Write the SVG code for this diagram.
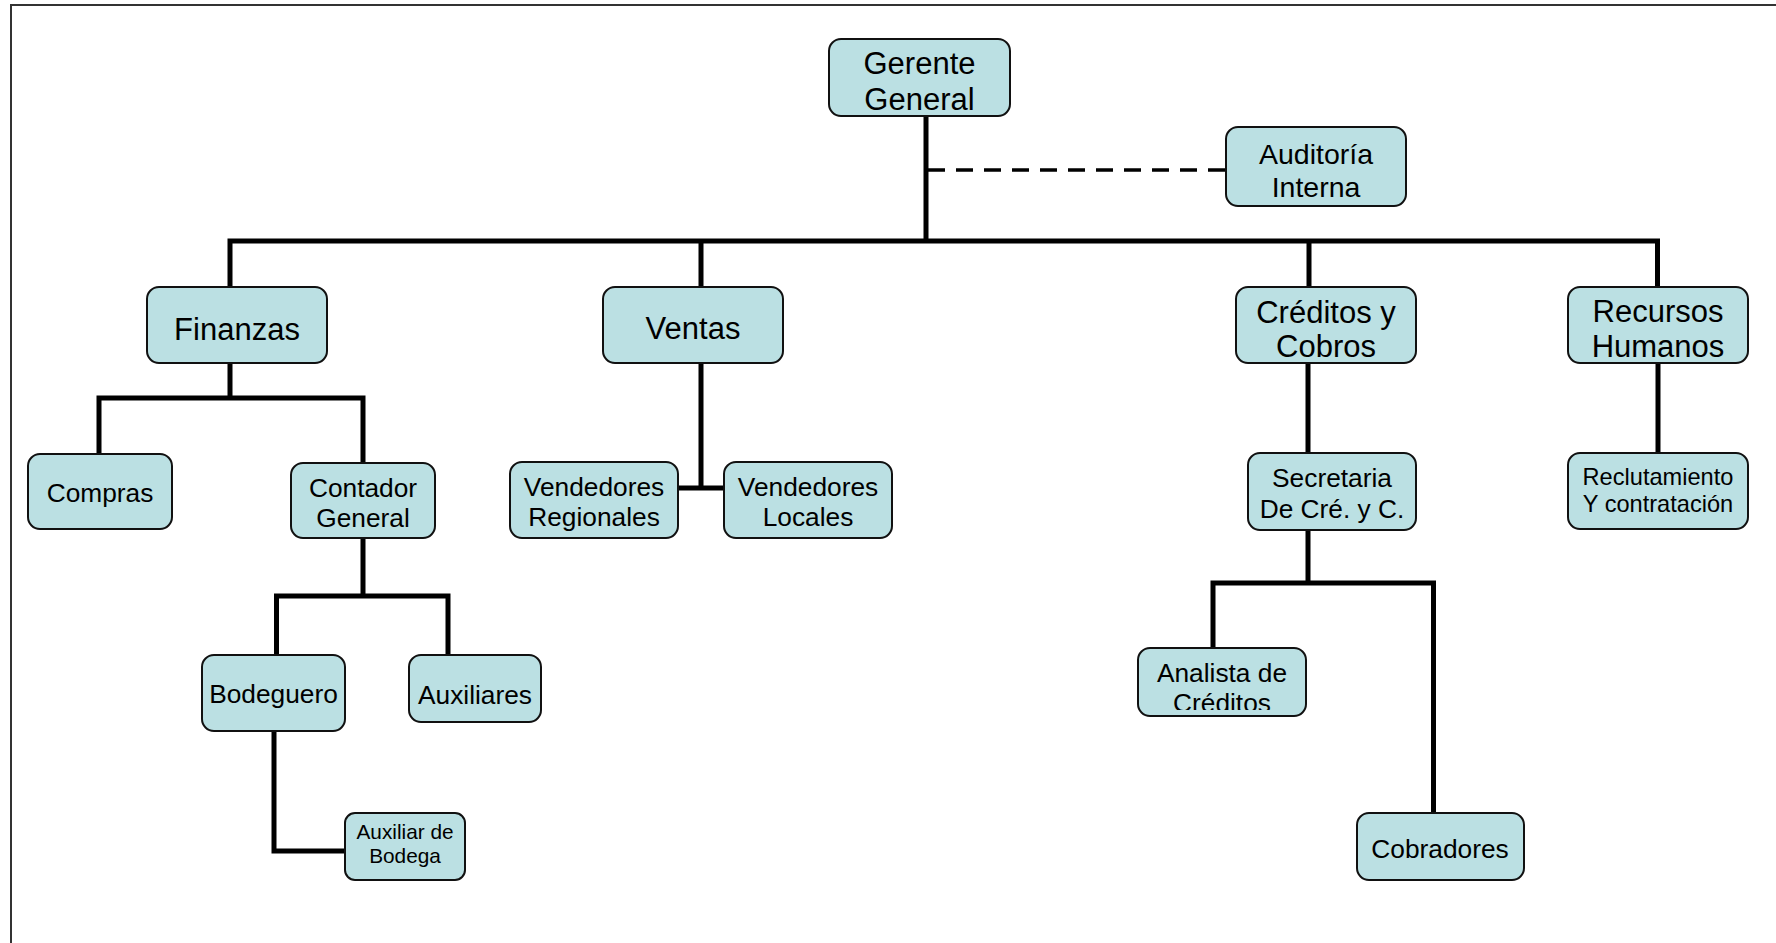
<svg xmlns="http://www.w3.org/2000/svg" width="1776" height="943" viewBox="0 0 1776 943">
<style>
.box{fill:#BBE0E3;stroke:#111;stroke-width:2}
.t{font-family:"Liberation Sans",Arial,sans-serif;fill:#000;text-anchor:middle}
.f31{font-size:31px}.f28{font-size:28.5px}.f26{font-size:26.3px}.f24{font-size:23.6px}.f21{font-size:20.8px}
.c{fill:none;stroke:#000;stroke-width:5}
.d{fill:none;stroke:#000;stroke-width:3.5;stroke-dasharray:17 11}
</style>
<defs>
<clipPath id="clipAnalista"><rect x="1138" y="640" width="170" height="70"/></clipPath>
</defs>
<rect x="0" y="0" width="1776" height="943" fill="#fff"/>
<path d="M11,950 V5 H1780" fill="none" stroke="#333" stroke-width="2"/>
<g id="connectors">
<path class="c" d="M926,116 V241 M230,287 V241 H1657.5 V287 M701,241 V287 M1309,241 V287"/>
<path class="d" d="M928,170 H1226"/>
<path class="c" d="M230,363 V398 M99,454 V398 H363 V463"/>
<path class="c" d="M363,538 V596 M276.5,656 V596 H448 V656"/>
<path class="c" d="M274,731 V851 H346"/>
<path class="c" d="M701,363 V488 M678,488 H724"/>
<path class="c" d="M1308,363 V453 M1308,530 V583 M1213,648 V583 H1433.5 V814"/>
<path class="c" d="M1658,363 V453"/>
</g>
<g id="gerente"><rect class="box" x="829" y="39" width="181" height="77" rx="12"/><text class="t f31" x="919.5" y="74">Gerente</text><text class="t f31" x="919.5" y="110">General</text></g>
<g id="auditoria"><rect class="box" x="1226" y="127" width="180" height="79" rx="12"/><text class="t f28" x="1316" y="164">Auditoría</text><text class="t f28" x="1316" y="197">Interna</text></g>
<g id="finanzas"><rect class="box" x="147" y="287" width="180" height="76" rx="12"/><text class="t f31" x="237" y="340">Finanzas</text></g>
<g id="ventas"><rect class="box" x="603" y="287" width="180" height="76" rx="12"/><text class="t f31" x="693" y="339">Ventas</text></g>
<g id="creditos"><rect class="box" x="1236" y="287" width="180" height="76" rx="12"/><text class="t f31" x="1326" y="323">Créditos y</text><text class="t f31" x="1326" y="357">Cobros</text></g>
<g id="recursos"><rect class="box" x="1568" y="287" width="180" height="76" rx="12"/><text class="t f31" x="1658" y="322">Recursos</text><text class="t f31" x="1658" y="357">Humanos</text></g>
<g id="compras"><rect class="box" x="28" y="454" width="144" height="75" rx="12"/><text class="t f26" x="100" y="501.5">Compras</text></g>
<g id="contador"><rect class="box" x="291" y="463" width="144" height="75" rx="12"/><text class="t f26" x="363" y="496.5">Contador</text><text class="t f26" x="363" y="527">General</text></g>
<g id="vendReg"><rect class="box" x="510" y="462" width="168" height="76" rx="12"/><text class="t f26" x="594" y="496">Vendedores</text><text class="t f26" x="594" y="526">Regionales</text></g>
<g id="vendLoc"><rect class="box" x="724" y="462" width="168" height="76" rx="12"/><text class="t f26" x="808" y="496">Vendedores</text><text class="t f26" x="808" y="526">Locales</text></g>
<g id="secretaria"><rect class="box" x="1248" y="453" width="168" height="77" rx="12"/><text class="t f26" x="1332" y="487">Secretaria</text><text class="t f26" x="1332" y="518">De Cré. y C.</text></g>
<g id="reclutamiento"><rect class="box" x="1568" y="453" width="180" height="76" rx="12"/><text class="t f24" x="1658" y="485">Reclutamiento</text><text class="t f24" x="1658" y="512">Y contratación</text></g>
<g id="bodeguero"><rect class="box" x="202" y="655" width="143" height="76" rx="12"/><text class="t f26" x="273.5" y="703">Bodeguero</text></g>
<g id="auxiliares"><rect class="box" x="409" y="655" width="132" height="67" rx="12"/><text class="t f26" x="475" y="704">Auxiliares</text></g>
<g id="auxBodega"><rect class="box" x="345" y="813" width="120" height="67" rx="10"/><text class="t f21" x="405" y="839">Auxiliar de</text><text class="t f21" x="405" y="863">Bodega</text></g>
<g id="analista"><rect class="box" x="1138" y="648" width="168" height="68" rx="12"/><g clip-path="url(#clipAnalista)"><text class="t f26" x="1222" y="682">Analista de</text><text class="t f26" x="1222" y="712">Créditos</text></g></g>
<g id="cobradores"><rect class="box" x="1357" y="813" width="167" height="67" rx="12"/><text class="t f26" x="1440" y="858">Cobradores</text></g>
</svg>
